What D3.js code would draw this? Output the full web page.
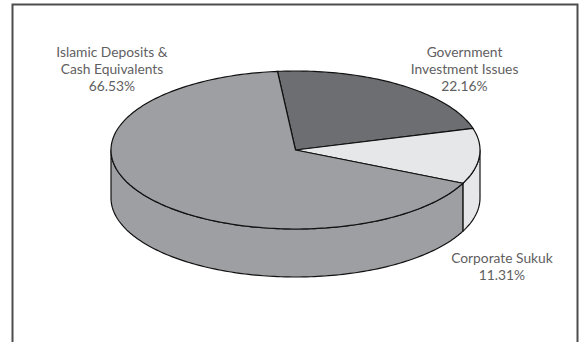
<!DOCTYPE html>
<html>
<head>
<meta charset="utf-8">
<script src="https://cdn.jsdelivr.net/npm/d3@7"></script>
<style>
  html, body { margin: 0; padding: 0; background: #fff; }
  svg { display: block; }
  .lbl { font-family: Lato, sans-serif; font-size: 13.8px; font-weight: 400; fill: #5f6062; }
</style>
</head>
<body>
<svg id="chart" width="583" height="342"></svg>
<script>
// Portfolio breakdown (percent)
const categories = ["Government Investment Issues", "Corporate Sukuk", "Islamic Deposits & Cash Equivalents"];
const values = [22.16, 11.31, 66.53];
const labelLines = [
  ["Government", "Investment Issues", "22.16%"],
  ["Corporate Sukuk", "11.31%"],
  ["Islamic Deposits &", "Cash Equivalents", "66.53%"]
];
const colors = ["#6d6e71", "#e6e7e8", "#9d9fa2"];

const W = 583, H = 342;
const svg = d3.select("#chart");

// frame
svg.append("rect")
  .attr("x", 12.5).attr("y", 4.5)
  .attr("width", 565).attr("height", 360)
  .attr("fill", "none").attr("stroke", "#4d4d4f").attr("stroke-width", 2);

// ellipse geometry of the tilted pie
const cx = 295.5, cy = 150, rx = 184.5, ry = 79, depth = 48;
const startDeg = -5.6;

const pie = d3.pie().sort(null).value(d => d)
  .startAngle(startDeg * Math.PI / 180)
  .endAngle(startDeg * Math.PI / 180 + 2 * Math.PI);
const arcs = pie(values);

const px = a => cx + rx * Math.sin(a);
const py = a => cy - ry * Math.cos(a);

function arcPoints(a0, a1, dy) {
  const n = Math.max(2, Math.ceil(Math.abs(a1 - a0) / 0.02));
  const pts = [];
  for (let i = 0; i <= n; i++) {
    const a = a0 + (a1 - a0) * i / n;
    pts.push([px(a), py(a) + dy]);
  }
  return pts;
}

const line = d3.line();

// visible side walls: front half of the ellipse (90° .. 270°)
const frontA = Math.PI / 2, frontB = 3 * Math.PI / 2;
const sides = [];
arcs.forEach((d, i) => {
  [0, 2 * Math.PI, -2 * Math.PI].forEach(off => {
    const a0 = Math.max(d.startAngle + off, frontA);
    const a1 = Math.min(d.endAngle + off, frontB);
    if (a1 > a0) sides.push({ i, a0, a1 });
  });
});

svg.append("g").selectAll("path").data(sides).join("path")
  .attr("d", s => {
    const top = arcPoints(s.a0, s.a1, 0);
    const bot = arcPoints(s.a1, s.a0, depth);
    return line(top.concat(bot)) + "Z";
  })
  .attr("fill", s => colors[s.i])
  .attr("stroke", "#111").attr("stroke-width", 1.2)
  .attr("stroke-linejoin", "round");

// top face slices
svg.append("g").selectAll("path").data(arcs).join("path")
  .attr("d", d => {
    const pts = [[cx, cy]].concat(arcPoints(d.startAngle, d.endAngle, 0));
    return line(pts) + "Z";
  })
  .attr("fill", (d, i) => colors[i])
  .attr("stroke", "#111").attr("stroke-width", 1.2)
  .attr("stroke-linejoin", "miter");

// labels
const labelPos = [[464.5, 57], [502, 263], [112, 57]];
const lineH = 17;
labelLines.forEach((lines, i) => {
  const t = svg.append("text").attr("class", "lbl")
    .attr("text-anchor", "middle");
  lines.forEach((s, k) => {
    t.append("tspan").attr("x", labelPos[i][0]).attr("y", labelPos[i][1] + k * lineH).text(s);
  });
});
</script>
</body>
</html>
